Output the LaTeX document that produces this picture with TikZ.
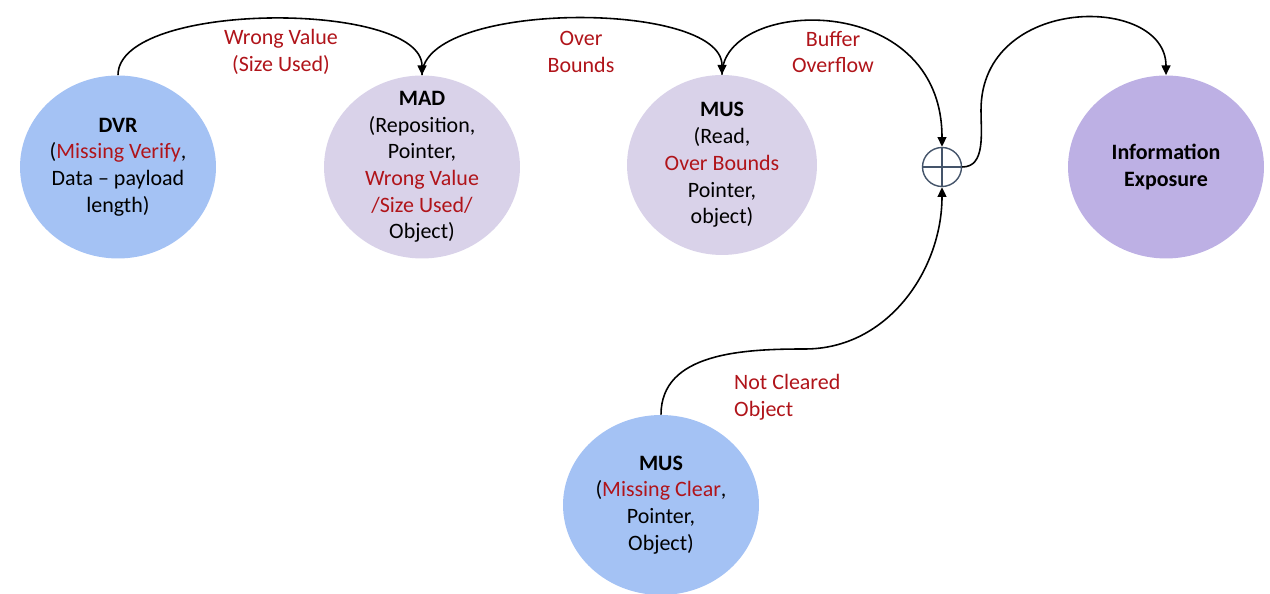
\documentclass[tikz,border=0pt]{standalone}
\usepackage{fontspec}
\setmainfont{Carlito}
\usepackage{tikz}
\usetikzlibrary{shapes.geometric, arrows.meta, positioning}
\definecolor{cweak}{RGB}{164,194,244}
\definecolor{cstep}{RGB}{217,210,233}
\definecolor{cfinal}{RGB}{189,176,228}
\definecolor{cred}{RGB}{176,20,26}
\definecolor{csum}{RGB}{68,84,106}
\newcommand{\rd}[1]{\textcolor{cred}{#1}}
\tikzset{
    % bug / weakness circles
    cause/.style = {ellipse, minimum width=3.92cm, minimum height=3.66cm, fill=cweak, align=center, inner sep=-12pt},
    chain/.style = {ellipse, minimum width=3.92cm, minimum height=3.66cm, fill=cstep, align=center, inner sep=-12pt},
    final/.style = {ellipse, minimum width=3.92cm, minimum height=3.66cm, fill=cfinal, align=center, inner sep=-12pt},
    arrow/.style = {line width=0.9pt, -{Triangle[length=5.5pt,width=5pt]}},
    lbl/.style = {text=cred, align=center}
}

\begin{document}
\begin{tikzpicture}[x=0.02cm, y=0.02cm, every node/.style={font=\fontsize{12.5}{15.2}\selectfont}]
\useasboundingbox (0,0) rectangle (1270,594);

\node[cause] (dvr) at (118,427) {\textbf{DVR}\\(\rd{Missing Verify},\\Data -- payload\\length)};
\node[chain] (mad) at (422,427) {\textbf{MAD}\\(Reposition,\\Pointer,\\\rd{Wrong Value}\\\rd{/Size Used/}\\Object)};
\node[chain, minimum width=3.8cm, minimum height=3.6cm] (mus) at (722,429) {\textbf{MUS}\\(Read,\\\rd{Over Bounds}\\Pointer,\\object)};
\node[final] (info) at (1166,427) {\textbf{Information}\\\textbf{Exposure}};
\node[cause, minimum height=3.6cm] (clear) at (661,89) {\textbf{MUS}\\(\rd{Missing Clear},\\Pointer,\\Object)};
\node[circle, draw=csum, line width=0.8pt, minimum size=0.78cm, inner sep=0pt] (sum) at (942,427) {};
\draw[csum, line width=0.8pt] (sum.north) -- (sum.south) (sum.west) -- (sum.east);

\draw[arrow] (dvr.north) to[out=90, in=90, looseness=0.63] (mad.north);
\draw[arrow] (mad.north) to[out=90, in=90, looseness=0.64] (mus.north);
\draw[arrow] (mus.north) .. controls (722,596) and (942,606) .. (sum.north);
\draw[arrow] (clear.north) to[out=90, in=180] (805,245) to[out=0, in=-90] (sum.south);
\draw[arrow] (sum.east) to[out=0, in=-90] (981,484) .. controls (981,600) and (1166,600) .. (info.north);

\node[lbl] (l1) at (281,542) {Wrong Value\\(Size Used)};
\node[lbl] (l2) at (581,542) {Over\\Bounds};
\node[lbl] (l3) at (833,542) {Buffer\\Overflow};
\node[lbl, anchor=west, align=left] (l4) at (728,197) {Not Cleared\\Object};

\end{tikzpicture}
\end{document}
